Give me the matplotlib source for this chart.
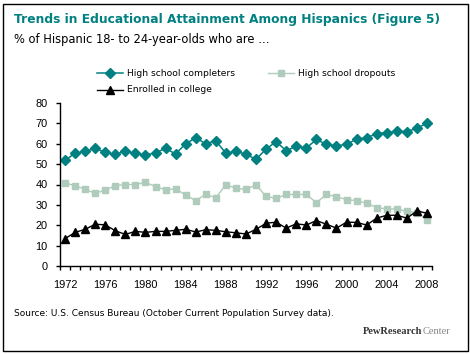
import matplotlib
matplotlib.use("Agg")
import matplotlib.pyplot as plt
from matplotlib.lines import Line2D
from matplotlib.patches import Rectangle
from matplotlib.ticker import MultipleLocator, FixedLocator

years = list(range(1972, 2009))
completers = [51.9, 55.3, 56.3, 57.7, 55.8, 54.8, 56.3, 55.3, 54.4, 55.6,
              57.7, 55.0, 60.0, 62.9, 60.0, 61.5, 55.3, 56.3, 54.8, 52.4,
              57.4, 61.0, 56.6, 58.7, 57.9, 62.1, 59.7, 59.0, 59.7, 62.3,
              62.9, 65.0, 65.5, 66.1, 66.0, 67.6, 70.2]
dropouts = [40.8, 39.4, 37.7, 35.6, 37.3, 39.4, 40.0, 40.0, 41.0, 39.0,
            37.4, 37.9, 34.8, 32.1, 35.2, 33.5, 40.0, 38.1, 37.6, 39.8,
            34.2, 33.2, 35.1, 35.1, 35.1, 31.1, 35.1, 34.0, 32.6, 32.1,
            30.8, 28.7, 28.0, 28.0, 26.8, 26.2, 22.8]
college = [13.4, 16.5, 18.0, 20.5, 20.2, 17.3, 15.5, 17.0, 16.5, 17.0,
           17.0, 17.5, 18.0, 16.7, 17.8, 17.5, 16.8, 16.3, 15.7, 18.0,
           21.0, 21.5, 18.6, 20.7, 20.1, 22.3, 20.5, 18.6, 21.5, 21.4,
           20.1, 23.5, 24.9, 24.9, 23.5, 27.0, 25.9]
xtick_labels = [1972, 1976, 1980, 1984, 1988, 1992, 1996, 2000, 2004, 2008]
series_names = ["High school completers", "High school dropouts", "Enrolled in college"]

TEAL = "#008080"
SAGE = "#AECBBB"
W, H = 470, 354

fig = plt.figure(figsize=(4.7, 3.54), dpi=100)
fig.patch.set_facecolor("white")

# outer border
fig.patches.append(Rectangle((2.5 / W, 3.5 / H), 465 / W, 347 / H, transform=fig.transFigure,
                             fill=False, edgecolor="black", linewidth=1.0))

ax = fig.add_axes([60 / W, (354 - 266) / H, 372 / W, 163 / H])
styles = [
    dict(color=TEAL, marker="D", markersize=4.9, linewidth=1.1, markerfacecolor=TEAL, markeredgecolor=TEAL),
    dict(color=SAGE, marker="s", markersize=5.0, linewidth=1.0, markerfacecolor=SAGE, markeredgecolor=SAGE),
    dict(color="black", marker="^", markersize=5.5, linewidth=1.0, markerfacecolor="black", markeredgecolor="black"),
]
for vals, st in zip([completers, dropouts, college], styles):
    ax.plot(years, vals, clip_on=False, **st)

ax.set_xlim(1971.5, 2008.5)
ax.set_ylim(0, 80)
ax.yaxis.set_major_locator(MultipleLocator(10))
ax.xaxis.set_major_locator(FixedLocator(xtick_labels))
ax.xaxis.set_minor_locator(FixedLocator([y - 0.5 for y in years] + [2008.5]))
ax.set_xticklabels([str(v) for v in xtick_labels])
for s in ["top", "right"]:
    ax.spines[s].set_visible(False)
for s in ["left", "bottom"]:
    ax.spines[s].set_linewidth(1.0)
ax.tick_params(axis="x", which="major", length=0, pad=10, labelsize=7.9)
ax.tick_params(axis="x", which="minor", length=3, width=1.0, direction="out")
ax.tick_params(axis="y", which="major", length=3, width=1.0, direction="out", pad=6, labelsize=7.9)
for lbl in ax.get_xticklabels() + ax.get_yticklabels():
    lbl.set_fontfamily("Liberation Sans")

# Title & subtitle
fig.text(14 / W, 1 - 20 / H, "Trends in Educational Attainment Among Hispanics (Figure 5)",
         color=TEAL, fontsize=8.8, fontweight="bold", family="DejaVu Sans", va="center", ha="left")
fig.text(14 / W, 1 - 40 / H, "% of Hispanic 18- to 24-year-olds who are \u2026",
         color="black", fontsize=8.3, family="DejaVu Sans", va="center", ha="left")

# Legend (manual)
leg_items = [(97, 73, 0), (268, 73, 1), (97, 90, 2)]
for x0, y0, i in leg_items:
    st = dict(styles[i])
    ln = Line2D([x0 / W, (x0 + 26) / W], [1 - y0 / H, 1 - y0 / H], transform=fig.transFigure,
                color=st["color"], linewidth=st["linewidth"])
    mk = Line2D([(x0 + 13) / W], [1 - y0 / H], transform=fig.transFigure, linestyle="none",
                marker=st["marker"], markersize=st["markersize"],
                markerfacecolor=st["markerfacecolor"], markeredgecolor=st["markeredgecolor"])
    fig.lines.extend([ln, mk])
    fig.text((x0 + 30) / W, 1 - y0 / H, series_names[i], fontsize=6.6, family="DejaVu Sans",
             va="center", ha="left")

# Source & logo
fig.text(14 / W, 1 - 314 / H, "Source: U.S. Census Bureau (October Current Population Survey data).",
         fontsize=6.5, family="DejaVu Sans", va="center", ha="left")
t1 = fig.text(363 / W, 1 - 331 / H, "PewResearch", fontsize=7.5, family="Liberation Serif",
              fontweight="bold", color="#333333", va="center", ha="left")
fig.canvas.draw()
bb = t1.get_window_extent()
fig.text(bb.x1 / W, 1 - 331 / H, "Center", fontsize=7.5, family="Liberation Serif",
         color="#888888", va="center", ha="left")

fig.savefig("out.png", dpi=100, facecolor="white")
